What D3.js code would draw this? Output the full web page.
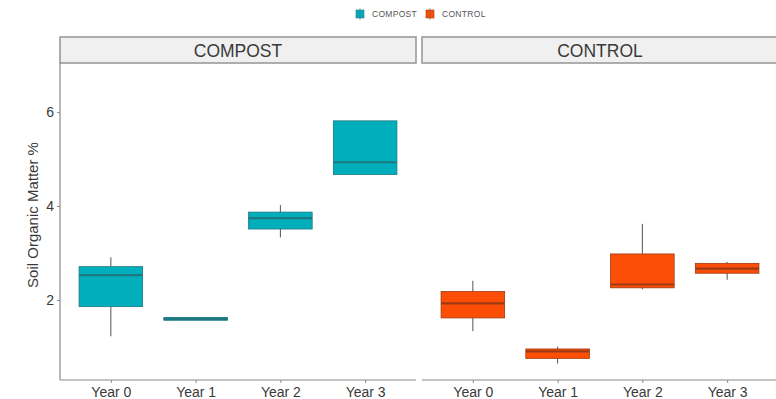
<!DOCTYPE html>
<html>
<head>
<meta charset="utf-8">
<script src="https://cdn.jsdelivr.net/npm/d3@7"></script>
<style>
  html, body { margin: 0; padding: 0; background: #fff; }
  svg { display: block; font-family: "Liberation Sans", Arial, sans-serif; }
</style>
</head>
<body>
<svg id="chart" width="776" height="399"></svg>
<script>
// Treatments (facets) and sampling years
const treatments = ["COMPOST", "CONTROL"];
const years = ["Year 0", "Year 1", "Year 2", "Year 3"];
const yTicks = [2, 4, 6];

// Box statistics per year: [whisker low, Q1, median, Q3, whisker high]
const compostStats = [
  [1.23, 1.86, 2.53, 2.71, 2.91],
  [1.57, 1.57, 1.60, 1.63, 1.63],
  [3.33, 3.51, 3.74, 3.87, 4.02],
  [4.67, 4.67, 4.93, 5.81, 5.81]
];
const controlStats = [
  [1.34, 1.62, 1.93, 2.18, 2.41],
  [0.65, 0.76, 0.91, 0.96, 1.01],
  [2.23, 2.26, 2.33, 2.98, 3.62],
  [2.43, 2.57, 2.67, 2.78, 2.81]
];

const fills = { COMPOST: "#00AFBB", CONTROL: "#FC4E07" };
const strokes = { COMPOST: "#1f7880", CONTROL: "#9e3a12" };

const svg = d3.select("#chart");

const panelTop = 63, panelBottom = 380;
const panels = [
  { name: treatments[0], x0: 60, x1: 416, stats: compostStats },
  { name: treatments[1], x0: 422, x1: 778, stats: controlStats }
];

const y = d3.scaleLinear().domain([0.3, 7.04]).range([panelBottom, panelTop]);

// Legend
const legend = svg.append("g").attr("transform", "translate(356,14)");
const legendItems = [
  { name: treatments[0], x: 0 },
  { name: treatments[1], x: 70 }
];
legendItems.forEach(it => {
  const g = legend.append("g").attr("transform", `translate(${it.x},0)`);
  g.append("rect").attr("x", 0).attr("y", -4).attr("width", 8).attr("height", 8)
    .attr("fill", fills[it.name]).attr("stroke", strokes[it.name]).attr("stroke-width", 0.6);
  g.append("line").attr("x1", 4).attr("x2", 4).attr("y1", -6).attr("y2", 6)
    .attr("stroke", "#666").attr("stroke-width", 0.6);
  g.append("text").attr("x", 16).attr("y", 3).attr("font-size", 8.5)
    .attr("letter-spacing", 0.3).attr("fill", "#555").text(it.name);
});

panels.forEach((p, pi) => {
  // Discrete positions with 0.6-unit expansion on each side
  const unit = (p.x1 - p.x0) / (years.length - 1 + 1.2);
  const cx = i => p.x0 + unit * (0.6 + i);
  const boxW = unit * 0.75;

  // Strip
  svg.append("rect").attr("x", p.x0).attr("y", 37).attr("width", p.x1 - p.x0).attr("height", panelTop - 37)
    .attr("fill", "#f0f0f0").attr("stroke", "#9a9a9a").attr("stroke-width", 1.6);
  svg.append("text").attr("x", (p.x0 + p.x1) / 2).attr("y", 56.5).attr("text-anchor", "middle")
    .attr("font-size", 17.5).attr("fill", "#3a3a3a").text(p.name);

  // Bottom axis
  const xAxis = d3.axisBottom(d3.scalePoint().domain(years).range([cx(0), cx(years.length - 1)]))
    .tickSize(3).tickPadding(4);
  const gx = svg.append("g").attr("transform", `translate(0,${panelBottom})`).call(xAxis);
  gx.select(".domain").attr("d", `M${p.x0},0H${p.x1}`).attr("stroke", "#8a8a8a").attr("stroke-width", 1.2);
  gx.selectAll(".tick line").attr("stroke", "#8a8a8a");
  gx.selectAll(".tick text").attr("font-size", 14).attr("fill", "#3a3a3a")
    .attr("font-family", "Liberation Sans, Arial, sans-serif");

  // Left axis on the first panel only
  if (pi === 0) {
    const yAxis = d3.axisLeft(y).tickValues(yTicks).tickFormat(d3.format("d")).tickSize(3).tickPadding(3);
    const gy = svg.append("g").attr("transform", `translate(${p.x0},0)`).call(yAxis);
    gy.select(".domain").attr("d", `M0,${panelTop}V${panelBottom}`).attr("stroke", "#8a8a8a").attr("stroke-width", 1.2);
    gy.selectAll(".tick line").attr("stroke", "#8a8a8a");
    gy.selectAll(".tick text").attr("font-size", 14).attr("fill", "#3a3a3a")
      .attr("font-family", "Liberation Sans, Arial, sans-serif");
  }

  // Boxes
  const g = svg.append("g");
  p.stats.forEach((s, i) => {
    const [lo, q1, med, q3, hi] = s;
    const c = cx(i);
    g.append("line").attr("x1", c).attr("x2", c).attr("y1", y(hi)).attr("y2", y(q3))
      .attr("stroke", "#555").attr("stroke-width", 1);
    g.append("line").attr("x1", c).attr("x2", c).attr("y1", y(q1)).attr("y2", y(lo))
      .attr("stroke", "#555").attr("stroke-width", 1);
    g.append("rect").attr("x", c - boxW / 2).attr("y", y(q3))
      .attr("width", boxW).attr("height", Math.max(y(q1) - y(q3), 1))
      .attr("fill", fills[p.name]).attr("stroke", strokes[p.name]).attr("stroke-width", 0.8);
    g.append("line").attr("x1", c - boxW / 2).attr("x2", c + boxW / 2).attr("y1", y(med)).attr("y2", y(med))
      .attr("stroke", strokes[p.name]).attr("stroke-width", 2.2);
  });
});

// Y axis title
svg.append("text").attr("transform", `translate(38,215) rotate(-90)`)
  .attr("text-anchor", "middle").attr("font-size", 15).attr("fill", "#3a3a3a")
  .text("Soil Organic Matter %");
</script>
</body>
</html>
